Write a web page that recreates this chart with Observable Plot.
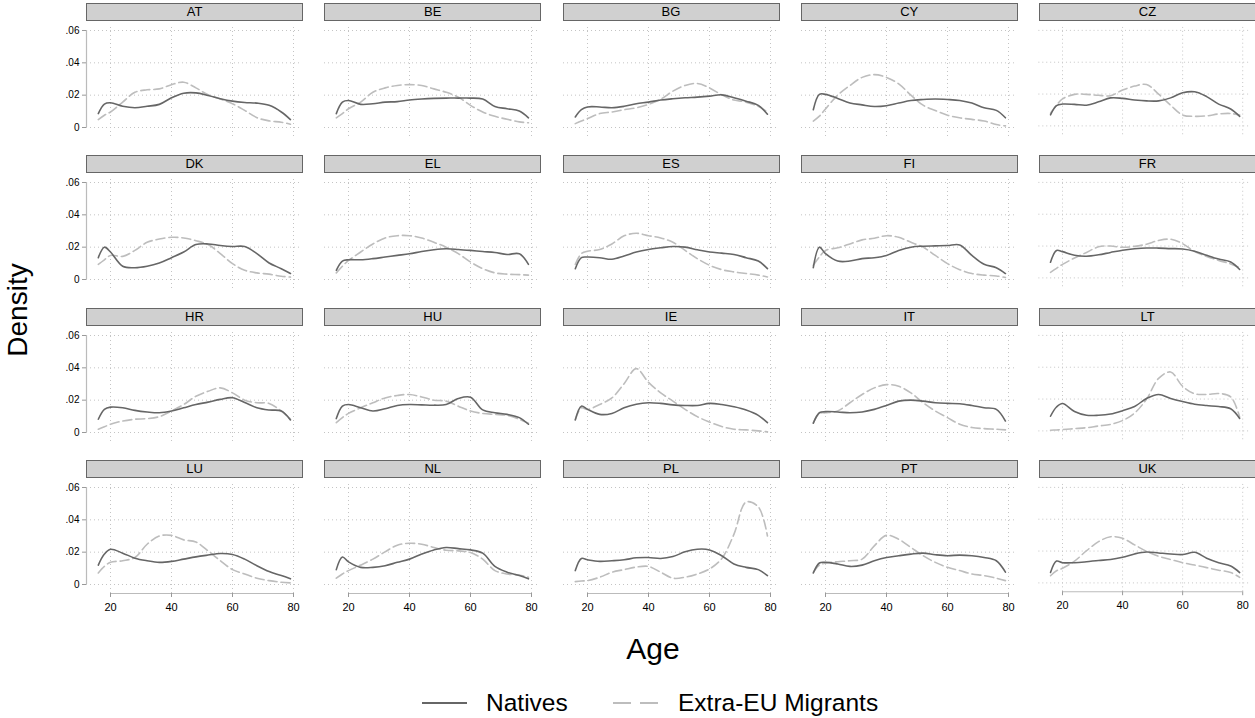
<!DOCTYPE html>
<html><head><meta charset="utf-8">
<script src="https://cdn.jsdelivr.net/npm/d3@7"></script>
<script src="https://cdn.jsdelivr.net/npm/@observablehq/plot@0.6"></script>
<style>
body{margin:0;background:#fff;font-family:"Liberation Sans",Arial,sans-serif;}
#chart{position:relative;width:1255px;height:718px;overflow:hidden;background:#fff}
.strip{position:absolute;box-sizing:border-box;background:#d0d0d0;border:1.5px solid #666;height:18px;width:217px;text-align:center;font-size:13px;line-height:15px;color:#000}
.panel{position:absolute}
.lbl{position:absolute;color:#000;white-space:nowrap}
</style></head><body><div id="chart"></div>
<script>
// ---- data ----
const countries = ["AT","BE","BG","CY","CZ","DK","EL","ES","FI","FR","HR","HU","IE","IT","LT","LU","NL","PL","PT","UK"];
const ages = [16,18,20,24,28,32,36,40,44,48,52,56,60,64,68,72,76,79];
const xTicks = [20,40,60,80];
const yTicks = [0,0.02,0.04,0.06];
const seriesNames = ["Natives","Extra-EU Migrants"];

// density of Natives, one row per country (order of `countries`)
const natives = [
 [.0086,.0145,.0153,.0131,.0122,.0131,.0143,.0184,.0212,.0214,.0198,.0178,.0163,.0155,.0151,.0137,.0096,.0049], // AT
 [.0086,.0157,.0167,.0143,.0147,.0157,.0160,.0170,.0176,.0180,.0182,.0182,.0182,.0176,.0130,.0116,.0102,.0060], // BE
 [.0065,.0110,.0127,.0127,.0122,.0131,.0147,.0157,.0170,.0178,.0184,.0188,.0194,.0202,.0184,.0163,.0137,.0082], // BG
 [.0110,.0205,.0205,.0180,.0152,.0140,.0130,.0135,.0151,.0167,.0173,.0176,.0173,.0167,.0151,.0122,.0106,.0060], // CY
 [.0069,.0127,.0137,.0135,.0130,.0151,.0176,.0173,.0163,.0157,.0157,.0176,.0208,.0214,.0184,.0137,.0106,.0060], // CZ
 [.0135,.0200,.0170,.0082,.0073,.0082,.0102,.0135,.0170,.0216,.0220,.0210,.0204,.0204,.0160,.0102,.0067,.0037], // DK
 [.0057,.0114,.0122,.0122,.0129,.0139,.0149,.0159,.0173,.0184,.0190,.0186,.0180,.0173,.0167,.0155,.0159,.0094], // EL
 [.0067,.0135,.0139,.0135,.0125,.0145,.0170,.0186,.0196,.0204,.0200,.0184,.0170,.0163,.0155,.0135,.0114,.0067], // ES
 [.0073,.0200,.0160,.0114,.0114,.0129,.0135,.0149,.0180,.0200,.0206,.0208,.0210,.0214,.0149,.0094,.0073,.0037], // FI
 [.0098,.0172,.0165,.0142,.0136,.0145,.0160,.0174,.0183,.0188,.0187,.0184,.0182,.0168,.0142,.0118,.0100,.0053], // FR
 [.0082,.0143,.0157,.0153,.0137,.0127,.0122,.0133,.0153,.0173,.0188,.0205,.0215,.0185,.0153,.0139,.0133,.0078], // HR
 [.0086,.0163,.0173,.0153,.0133,.0147,.0167,.0173,.0171,.0169,.0173,.0210,.0218,.0140,.0122,.0112,.0092,.0051], // HU
 [.0078,.0163,.0143,.0112,.0118,.0153,.0175,.0184,.0180,.0171,.0167,.0167,.0180,.0173,.0159,.0139,.0106,.0061], // IE
 [.0057,.0122,.0129,.0127,.0122,.0127,.0143,.0167,.0194,.0200,.0194,.0184,.0180,.0178,.0167,.0153,.0143,.0071], // IT
 [.0092,.0150,.0172,.0122,.0098,.0098,.0106,.0127,.0153,.0204,.0229,.0204,.0184,.0167,.0159,.0153,.0139,.0078], // LT
 [.0120,.0188,.0218,.0194,.0163,.0147,.0137,.0143,.0157,.0171,.0182,.0192,.0186,.0157,.0116,.0080,.0055,.0035], // LU
 [.0092,.0170,.0140,.0106,.0106,.0116,.0137,.0157,.0188,.0214,.0229,.0222,.0214,.0194,.0112,.0076,.0055,.0035], // NL
 [.0086,.0161,.0153,.0143,.0147,.0153,.0165,.0167,.0161,.0173,.0202,.0218,.0214,.0178,.0127,.0106,.0092,.0055], // PL
 [.0071,.0133,.0137,.0127,.0112,.0120,.0147,.0167,.0178,.0188,.0194,.0184,.0178,.0182,.0178,.0167,.0147,.0076], // PT
 [.0065,.0137,.0127,.0127,.0133,.0141,.0147,.0161,.0182,.0194,.0188,.0182,.0178,.0192,.0155,.0127,.0106,.0065]  // UK
];

// density of Extra-EU Migrants, one row per country
const migrants = [
 [.0049,.0076,.0096,.0157,.0218,.0233,.0239,.0265,.0280,.0245,.0202,.0176,.0147,.0106,.0061,.0041,.0033,.0020], // AT
 [.0060,.0086,.0116,.0157,.0218,.0245,.0260,.0265,.0260,.0239,.0218,.0188,.0137,.0096,.0069,.0051,.0035,.0029], // BE
 [.0024,.0040,.0055,.0086,.0096,.0110,.0122,.0143,.0175,.0225,.0260,.0272,.0245,.0202,.0170,.0157,.0131,.0096], // BG
 [.0040,.0070,.0115,.0200,.0260,.0310,.0327,.0310,.0270,.0200,.0138,.0105,.0076,.0060,.0050,.0040,.0018,.0010], // CY
 [.0080,.0130,.0170,.0198,.0198,.0192,.0190,.0225,.0250,.0260,.0200,.0130,.0068,.0060,.0063,.0075,.0078,.0068], // CZ
 [.0094,.0122,.0149,.0143,.0180,.0230,.0250,.0261,.0257,.0240,.0216,.0160,.0098,.0057,.0041,.0033,.0020,.0015], // DK
 [.0041,.0082,.0118,.0170,.0220,.0257,.0271,.0271,.0257,.0230,.0200,.0160,.0108,.0067,.0041,.0033,.0030,.0027], // EL
 [.0094,.0160,.0175,.0185,.0220,.0270,.0286,.0271,.0257,.0230,.0180,.0129,.0088,.0061,.0047,.0037,.0027,.0016], // ES
 [.0088,.0139,.0180,.0196,.0220,.0245,.0255,.0271,.0261,.0230,.0200,.0149,.0098,.0061,.0037,.0027,.0022,.0012], // FI
 [.0035,.0060,.0085,.0125,.0160,.0195,.0200,.0192,.0198,.0212,.0235,.0243,.0215,.0165,.0135,.0110,.0088,.0065], // FR
 [.0020,.0035,.0051,.0071,.0082,.0086,.0098,.0133,.0173,.0224,.0255,.0276,.0245,.0200,.0184,.0180,.0133,.0082], // HR
 [.0061,.0092,.0118,.0153,.0184,.0214,.0229,.0235,.0220,.0200,.0194,.0163,.0133,.0118,.0112,.0106,.0082,.0057], // HU
 [.0080,.0153,.0143,.0173,.0214,.0302,.0395,.0310,.0245,.0194,.0143,.0098,.0065,.0037,.0020,.0016,.0010,.0004], // IE
 [.0061,.0118,.0122,.0133,.0184,.0235,.0276,.0296,.0286,.0245,.0184,.0133,.0092,.0051,.0031,.0024,.0020,.0016], // IT
 [.0004,.0006,.0008,.0014,.0020,.0031,.0041,.0065,.0112,.0200,.0330,.0370,.0280,.0233,.0229,.0235,.0214,.0086], // LT
 [.0071,.0112,.0137,.0147,.0167,.0249,.0300,.0304,.0276,.0263,.0208,.0147,.0092,.0065,.0039,.0024,.0014,.0010], // LU
 [.0039,.0065,.0086,.0120,.0157,.0202,.0243,.0255,.0249,.0229,.0212,.0208,.0198,.0157,.0086,.0065,.0059,.0045], // NL
 [.0018,.0022,.0024,.0045,.0076,.0092,.0108,.0112,.0076,.0039,.0045,.0065,.0096,.0160,.0310,.0510,.0480,.0300], // PL
 [.0076,.0120,.0133,.0141,.0147,.0157,.0239,.0304,.0280,.0229,.0178,.0137,.0106,.0086,.0065,.0055,.0039,.0024], // PT
 [.0045,.0076,.0092,.0137,.0202,.0259,.0290,.0280,.0239,.0198,.0167,.0147,.0127,.0112,.0096,.0080,.0065,.0035]  // UK
];

// ---- layout ----
const chart = document.getElementById("chart");
const FONT = "'Liberation Sans', Arial, sans-serif";
const frameW = 216, frameH = 109;
const pxPerYear = 3.05, pxPerUnit = 1616.7;
const xDomain = [20 - 24 / pxPerYear, 20 - 24 / pxPerYear + frameW / pxPerYear];
const yDomain = [-9 / pxPerUnit, 0.06 + 3 / pxPerUnit];
const mL = 40, mR = 4, mT = 4, mB = 26;
const yFmt = d => d === 0 ? "0" : d3.format(".2f")(d).replace(/^0/, "");

countries.forEach((cc, i) => {
  const c = i % 5, r = Math.floor(i / 5);
  const frameLeft = 86 + 238.25 * c;
  const y0 = 127 + 152.33 * r;
  const frameTop = y0 - 100;

  const rows = [];
  ages.forEach((a, j) => {
    rows.push({age: a, value: natives[i][j], series: seriesNames[0]});
    rows.push({age: a, value: migrants[i][j], series: seriesNames[1]});
  });

  const marks = [
    Plot.gridX(xTicks, {stroke: "#c4c4c4", strokeOpacity: 1, strokeDasharray: "1,3"}),
    Plot.gridY(yTicks, {stroke: "#c4c4c4", strokeOpacity: 1, strokeDasharray: "1,3"}),
    Plot.line(rows.filter(d => d.series === seriesNames[1]), {x: "age", y: "value", stroke: "#bdbdbd", strokeWidth: 1.6, strokeDasharray: "9,4", curve: "catmull-rom"}),
    Plot.line(rows.filter(d => d.series === seriesNames[0]), {x: "age", y: "value", stroke: "#666", strokeWidth: 1.6, curve: "catmull-rom"})
  ];
  if (c === 0) {
    marks.push(Plot.ruleX([xDomain[0]], {y1: yTicks[0], y2: yTicks[yTicks.length - 1], stroke: "#bbb", strokeWidth: 1.2}));
    marks.push(Plot.axisY(yTicks, {anchor: "left", tickSize: 4, tickPadding: 3, fontSize: 10, tickFormat: yFmt, label: null, stroke: "#999"}));
  }
  if (r === 3) {
    marks.push(Plot.ruleY([yDomain[0]], {x1: xTicks[0], x2: xTicks[xTicks.length - 1], stroke: "#bbb", strokeWidth: 1.2}));
    marks.push(Plot.axisX(xTicks, {anchor: "bottom", tickSize: 4, tickPadding: 6, fontSize: 11, label: null, stroke: "#999"}));
  }

  const svg = Plot.plot({
    width: mL + frameW + mR, height: mT + frameH + mB,
    marginLeft: mL, marginRight: mR, marginTop: mT, marginBottom: mB,
    x: {domain: xDomain, axis: null},
    y: {domain: yDomain, axis: null},
    style: {background: "transparent", fontFamily: FONT, color: "black", overflow: "visible"},
    marks
  });
  const wrap = document.createElement("div");
  wrap.className = "panel";
  wrap.style.left = (frameLeft - mL) + "px";
  wrap.style.top = (frameTop - mT) + "px";
  wrap.appendChild(svg);
  chart.appendChild(wrap);

  const strip = document.createElement("div");
  strip.className = "strip";
  strip.style.left = frameLeft + "px";
  strip.style.top = (y0 - 124) + "px";
  strip.textContent = cc;
  chart.appendChild(strip);
});

// axis titles
const dens = document.createElement("div");
dens.className = "lbl";
dens.textContent = "Density";
dens.style.cssText += "font-size:28px;left:18px;top:310px;transform:translate(-50%,-50%) rotate(-90deg);";
chart.appendChild(dens);

const age = document.createElement("div");
age.className = "lbl";
age.textContent = "Age";
age.style.cssText += "font-size:30px;left:653px;top:632px;transform:translateX(-50%);";
chart.appendChild(age);

// legend
const leg = document.createElementNS("http://www.w3.org/2000/svg", "svg");
leg.setAttribute("width", 1255); leg.setAttribute("height", 40);
leg.style.cssText = "position:absolute;left:0;top:683px;";
leg.innerHTML =
  `<line x1="422" x2="467" y1="20" y2="20" stroke="#666" stroke-width="2.2"/>
   <text x="486" y="28" font-size="24.5" font-family="${FONT}">${seriesNames[0]}</text>
   <line x1="613" x2="658" y1="20" y2="20" stroke="#bdbdbd" stroke-width="2.2" stroke-dasharray="18,9"/>
   <text x="678" y="28" font-size="24.5" font-family="${FONT}">${seriesNames[1]}</text>`;
chart.appendChild(leg);
</script>
</body></html>
